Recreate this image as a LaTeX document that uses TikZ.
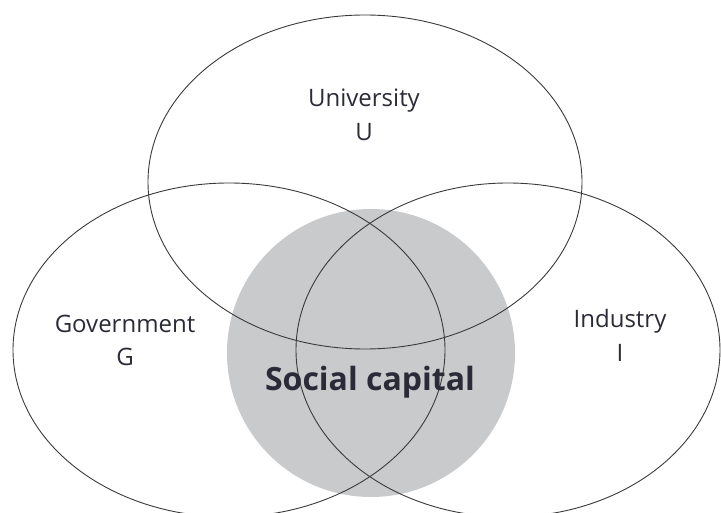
\documentclass[tikz,border=0pt]{standalone}
\usepackage{fontspec}
\setmainfont{Open Sans}
\definecolor{capgray}{HTML}{C9CACC}
\definecolor{edgegray}{HTML}{3A3A3A}
\definecolor{txt}{HTML}{2B2B38}
\tikzset{
  venn/.style={draw=edgegray, line width=0.9pt},
  lbl/.style={text=txt, font=\fontsize{24}{28}\selectfont, anchor=base, inner sep=0pt},
  biglbl/.style={text=txt, font=\bfseries\fontsize{32}{38}\selectfont, anchor=base, inner sep=0pt}
}
\begin{document}
\begin{tikzpicture}[x=1pt,y=-1pt]
\useasboundingbox (0,0) rectangle (721,513);
\begin{scope}
\clip (0,0) rectangle (721,513);
\fill[capgray] (371,353) circle[radius=144];
\draw[venn] (365,182) ellipse[x radius=217, y radius=167];
\draw[venn] (229,350) ellipse[x radius=216, y radius=167];
\draw[venn] (508,350) ellipse[x radius=212, y radius=167];
\end{scope}
\node[lbl] (u) at (364,107) {University};
\node[lbl] (u2) at (364,141) {U};
\node[lbl] (g) at (125,333) {Government};
\node[lbl] (g2) at (125,366) {G};
\node[lbl] (i) at (620,328) {Industry};
\node[lbl] (i2) at (620,362) {I};
\node[biglbl] (s) at (370,390) {Social capital};
\end{tikzpicture}
\end{document}
